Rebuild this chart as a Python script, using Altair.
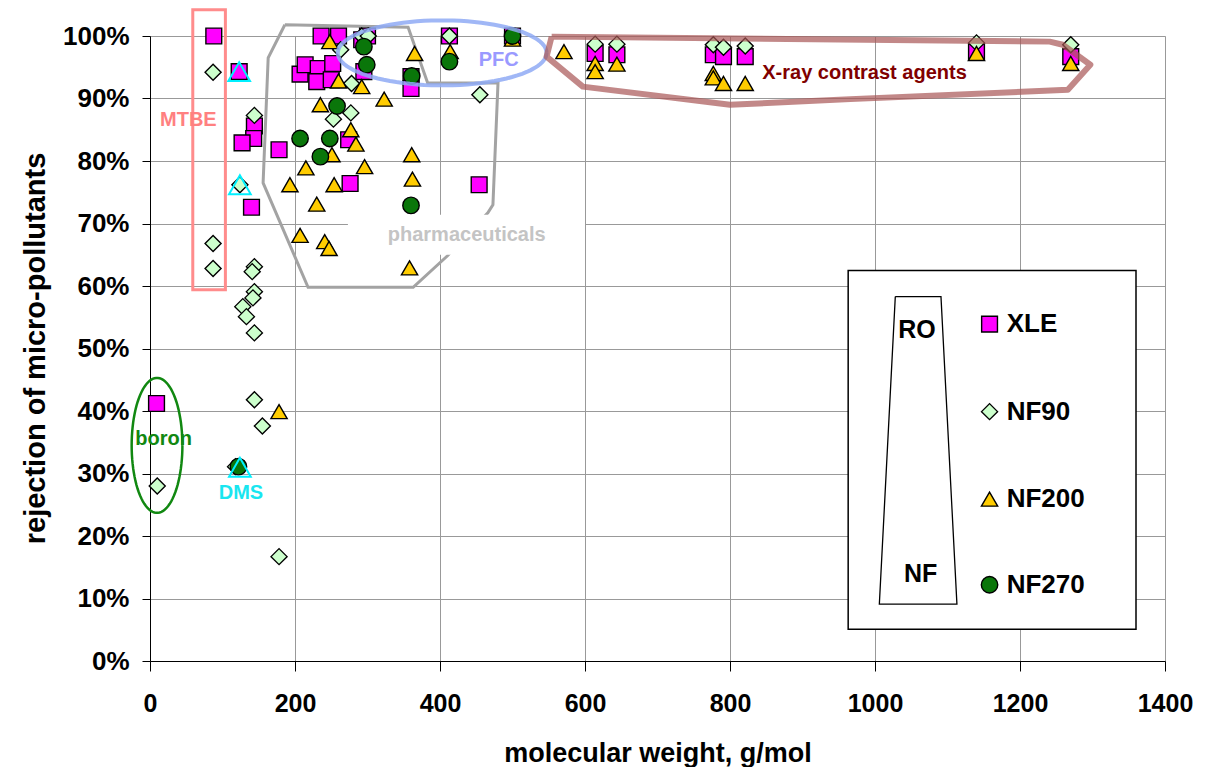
import altair as alt
import pandas as pd
import numpy as np

# ---------------- data ----------------
series_names = ["XLE", "NF90", "NF200", "NF270"]

xle_mw = [88, 123, 144, 143, 127, 178, 140, 9, 207, 214, 232, 230, 252, 250, 236, 260, 292, 300, 295,
          274, 276, 454, 360, 360, 413, 500, 614, 644, 777, 791, 821, 1140, 1270]
xle_rej = [100, 94.3, 85.6, 83.6, 82.9, 81.8, 72.6, 41.2, 93.9, 95.4, 94.8, 92.7, 95.6, 93.0, 100, 100, 99.4, 100, 94.3,
           83.4, 76.4, 76.2, 93.5, 91.6, 100, 100, 97.2, 97.0, 97.0, 96.7, 96.7, 97.5, 96.7]

nf90_mw = [87, 144, 124, 87, 87, 144, 141, 144, 142, 128, 133, 144, 10, 144, 155, 118, 178, 263, 278, 277,
           253, 292, 301, 413, 455, 614, 644, 777, 791, 821, 1140, 1270]
nf90_rej = [94.2, 87.3, 76.2, 66.8, 62.8, 63.1, 62.3, 59.1, 58.1, 56.7, 55.1, 52.5, 28.0, 41.8, 37.6, 31.1, 16.7, 97.8, 92.4, 87.7,
            86.7, 100, 100, 100, 90.6, 98.7, 98.7, 98.6, 98.2, 98.4, 98.9, 98.6]

nf200_mw = [248, 235, 215, 193, 260, 292, 323, 277, 284, 251, 296, 361, 362, 254, 365, 414, 500, 230, 207, 241,
            247, 358, 178, 571, 614, 614, 644, 777, 777, 791, 821, 1140, 1270]
nf200_rej = [99.1, 89.0, 78.9, 76.2, 92.8, 91.9, 89.9, 85.0, 82.7, 81.0, 79.1, 81.0, 77.1, 76.2, 97.2, 97.5, 99.5, 73.1, 68.1, 67.1,
             66.0, 62.9, 39.9, 97.5, 95.6, 94.3, 95.5, 94.0, 93.3, 92.4, 92.4, 97.2, 95.6]

nf270_mw = [207, 248, 235, 258, 295, 299, 361, 413, 500, 360, 122]
nf270_rej = [83.6, 83.6, 80.7, 88.8, 98.3, 95.4, 93.6, 95.9, 100, 72.9, 31.1]

dms_mw = [123, 124, 124]
dms_rej = [94.3, 76.2, 31.0]

x_ticks = [0, 200, 400, 600, 800, 1000, 1200, 1400]
y_ticks = [0, 10, 20, 30, 40, 50, 60, 70, 80, 90, 100]

# annotation outlines (data units)
pharma_x = [186, 356, 383, 480, 473, 466, 410, 363, 218, 156, 163, 186]
pharma_y = [101.8, 101.4, 92.5, 92.5, 73.0, 71.7, 64.8, 59.8, 59.8, 76.5, 96.5, 101.8]
xray_x = [554, 1241, 1259, 1297, 1266, 966, 800, 597, 547, 554]
xray_y = [99.9, 99.1, 98.6, 95.4, 91.4, 89.9, 89.0, 91.9, 96.7, 99.9]
mtbe_box = dict(x=59, x2=104, y=59.4, y2=104.2)
pharma_label_box = dict(x=273, x2=600, y=65.0, y2=71.4)
pfc_ellipse = dict(cx=403, cy=97.3, rx=144, ry=5.2)
boron_ellipse = dict(cx=9.7, cy=34.5, rx=35, ry=10.8)
legend_box = dict(x=963, x2=1360, y=5.1, y2=62.5)
trap_x = [1028, 1091, 1113, 1006, 1028]
trap_y = [58.3, 58.3, 9.1, 9.1, 58.3]

labels = ["MTBE", "PFC", "boron", "DMS", "pharmaceuticals", "X-ray contrast agents"]
label_x = [52.9, 481, 18.9, 125.5, 436.8, 985.5]
label_y = [86.6, 96.2, 35.6, 26.9, 68.2, 94.1]
label_color = ["#FF8080", "#9A9AFF", "#118811", "#19E6F0", "#C4C4C4", "#800000"]

legend_x_sym = 1158
legend_x_lab = 1181.6
legend_y = [53.9, 39.9, 25.9, 12.2]

# ---------------- build tables ----------------
pts = pd.concat([
    pd.DataFrame({"mw": xle_mw, "rej": xle_rej, "series": "XLE"}),
    pd.DataFrame({"mw": nf90_mw, "rej": nf90_rej, "series": "NF90"}),
    pd.DataFrame({"mw": nf200_mw, "rej": nf200_rej, "series": "NF200"}),
    pd.DataFrame({"mw": nf270_mw, "rej": nf270_rej, "series": "NF270"}),
], ignore_index=True)
pts["idx"] = range(len(pts))

XS = alt.Scale(domain=[0, 1400], nice=False)
YS = alt.Scale(domain=[0, 100], nice=False)

shape_scale = alt.Scale(domain=series_names, range=["square", "diamond", "triangle-up", "circle"])
fill_scale = alt.Scale(domain=series_names, range=["#FF00FF", "#CCFFCC", "#FFCC00", "#0A760A"])
size_scale = alt.Scale(domain=series_names, range=[250, 270, 290, 215])

FONT = "Liberation Sans, Arial, sans-serif"

x_enc = alt.X("mw:Q", scale=XS, title="molecular weight, g/mol",
              axis=alt.Axis(values=x_ticks, format="d", grid=True, tickSize=10, labelPadding=20,
                            labelFlush=False, labelOverlap=False,
                            labelFontSize=25, labelFont=FONT, labelFontWeight="bold", labelColor="black",
                            titleFontSize=27, titleFont=FONT, titleFontWeight="bold", titleColor="black",
                            titleY=92, titleBaseline="middle", titleX=507.5, titleAnchor="middle",
                            domainColor="black", tickColor="black", gridColor="#999999", gridWidth=1))
y_enc = alt.Y("rej:Q", scale=YS, title="rejection of micro-pollutants",
              axis=alt.Axis(values=y_ticks, grid=True, tickSize=8, labelPadding=13,
                            labelFlush=False, labelOverlap=False,
                            labelExpr="datum.value + '%'",
                            labelFontSize=26, labelFont=FONT, labelFontWeight="bold", labelColor="black",
                            titleFontSize=29, titleFont=FONT, titleFontWeight="bold", titleColor="black",
                            titleX=-115, titleY=312, titleAngle=270, titleBaseline="middle",
                            titleAlign="center",
                            domainColor="black", tickColor="black", gridColor="#999999", gridWidth=1))

pharma_df = pd.DataFrame({"mw": pharma_x, "rej": pharma_y, "i": range(len(pharma_x))})
pharma_poly = alt.Chart(pharma_df).mark_line(color="#A3A3A3", strokeWidth=3, clip=False).encode(
    x=x_enc, y=y_enc, order="i:Q")

pbox = alt.Chart(pd.DataFrame([pharma_label_box])).mark_rect(fill="white", clip=False).encode(
    x=alt.X("x:Q", scale=XS), x2="x2:Q", y=alt.Y("y:Q", scale=YS), y2="y2:Q")

points = alt.Chart(pts).mark_point(filled=True, stroke="black", strokeWidth=1.4, opacity=1, clip=False).encode(
    x=alt.X("mw:Q", scale=XS),
    y=alt.Y("rej:Q", scale=YS),
    shape=alt.Shape("series:N", scale=shape_scale, legend=None),
    fill=alt.Fill("series:N", scale=fill_scale, legend=None),
    size=alt.Size("series:N", scale=size_scale, legend=None),
    order="idx:Q",
)

dms = alt.Chart(pd.DataFrame({"mw": dms_mw, "rej": dms_rej})).mark_point(
    shape="triangle-up", filled=False, stroke="#00F0FF", strokeWidth=2, size=470, opacity=1).encode(
    x=alt.X("mw:Q", scale=XS), y=alt.Y("rej:Q", scale=YS))

def ellipse_df(e):
    t = np.linspace(0, 2 * np.pi, 91)
    return pd.DataFrame({"mw": e["cx"] + e["rx"] * np.cos(t), "rej": e["cy"] + e["ry"] * np.sin(t),
                         "i": range(len(t))})

pfc = alt.Chart(ellipse_df(pfc_ellipse)).mark_line(color="#8FAAF5", strokeWidth=4, opacity=0.85, clip=False).encode(
    x=alt.X("mw:Q", scale=XS), y=alt.Y("rej:Q", scale=YS), order="i:Q")
boron = alt.Chart(ellipse_df(boron_ellipse)).mark_line(color="#118811", strokeWidth=2.5, clip=False).encode(
    x=alt.X("mw:Q", scale=XS), y=alt.Y("rej:Q", scale=YS), order="i:Q")

xray_df = pd.DataFrame({"mw": xray_x, "rej": xray_y, "i": range(len(xray_x))})
xray = alt.Chart(xray_df).mark_line(color="#A85555", strokeWidth=6, opacity=0.7, clip=False,
                                    strokeJoin="round").encode(
    x=alt.X("mw:Q", scale=XS), y=alt.Y("rej:Q", scale=YS), order="i:Q")

mtbe = alt.Chart(pd.DataFrame([mtbe_box])).mark_rect(fill=None, stroke="#FF8C8C", strokeWidth=3, clip=False).encode(
    x=alt.X("x:Q", scale=XS), x2="x2:Q", y=alt.Y("y:Q", scale=YS), y2="y2:Q")

ann = alt.Chart(pd.DataFrame({"t": labels, "mw": label_x, "rej": label_y, "c": label_color})).mark_text(
    font=FONT, fontWeight="bold", fontSize=20, baseline="middle", align="center").encode(
    x=alt.X("mw:Q", scale=XS), y=alt.Y("rej:Q", scale=YS), text="t:N", color=alt.Color("c:N", scale=None))

# legend
lbox = alt.Chart(pd.DataFrame([legend_box])).mark_rect(fill="white", stroke="black", strokeWidth=1.5).encode(
    x=alt.X("x:Q", scale=XS), x2="x2:Q", y=alt.Y("y:Q", scale=YS), y2="y2:Q")
trap = alt.Chart(pd.DataFrame({"mw": trap_x, "rej": trap_y, "i": range(len(trap_x))})).mark_line(
    color="black", strokeWidth=1.3).encode(x=alt.X("mw:Q", scale=XS), y=alt.Y("rej:Q", scale=YS), order="i:Q")
ronf = alt.Chart(pd.DataFrame({"t": ["RO", "NF"], "mw": [1058, 1063], "rej": [53.0, 14.0]})).mark_text(
    font=FONT, fontWeight="bold", fontSize=25, baseline="middle", align="center", color="black").encode(
    x=alt.X("mw:Q", scale=XS), y=alt.Y("rej:Q", scale=YS), text="t:N")
leg_df = pd.DataFrame({"series": series_names, "mw": [legend_x_sym] * 4, "rej": legend_y,
                       "lx": [legend_x_lab] * 4})
leg_sym = alt.Chart(leg_df).mark_point(filled=True, stroke="black", strokeWidth=1.4, opacity=1).encode(
    x=alt.X("mw:Q", scale=XS), y=alt.Y("rej:Q", scale=YS),
    shape=alt.Shape("series:N", scale=shape_scale, legend=None),
    fill=alt.Fill("series:N", scale=fill_scale, legend=None),
    size=alt.Size("series:N", scale=size_scale, legend=None))
leg_lab = alt.Chart(leg_df).mark_text(font=FONT, fontWeight="bold", fontSize=26, baseline="middle",
                                      align="left", color="black").encode(
    x=alt.X("lx:Q", scale=XS), y=alt.Y("rej:Q", scale=YS), text="series:N")

chart = alt.layer(
    pharma_poly, pbox, lbox, trap, ronf, leg_sym, leg_lab, points, dms, pfc, boron, xray, mtbe, ann
).properties(
    width=1015, height=625,
    autosize=alt.AutoSizeParams(type="none"),
    padding={"left": 142, "top": 28, "right": 43, "bottom": 106},
).configure_view(stroke="black", strokeWidth=1.5).configure(background="white")

chart.save("out.html", embed_options={"renderer": "svg", "actions": False})
